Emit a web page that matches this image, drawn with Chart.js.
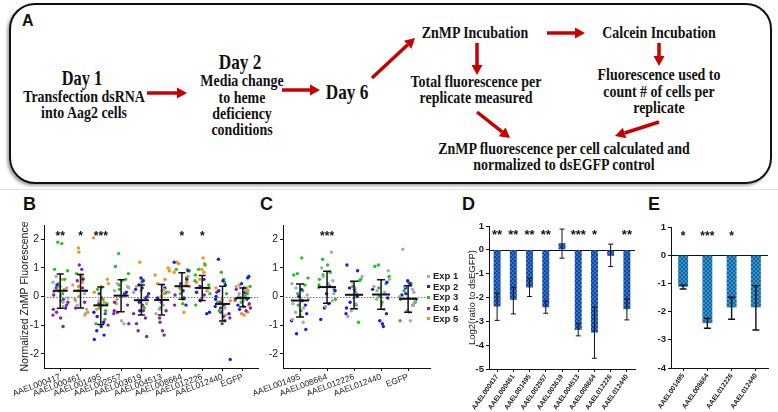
<!DOCTYPE html>
<html>
<head>
<meta charset="utf-8">
<script src="https://cdn.jsdelivr.net/npm/chart.js@4.4.0/dist/chart.umd.min.js"></script>
<style>
  html, body { margin: 0; padding: 0; background: #fff; }
  #page { position: relative; width: 778px; height: 412px; overflow: hidden; }
  #boxA { position: absolute; left: 9px; top: 3px; width: 759px; height: 177px;
          border: 2px solid #111; border-radius: 26px; box-shadow: -2px 2px 3px rgba(0,0,0,0.35); }
  .t { position: absolute; white-space: nowrap; font: bold 17px 'Liberation Serif', 'Times New Roman', serif;
       line-height: 16px; color: #111; transform: translateX(-50%) scaleX(0.82); }
  .day { font-size: 21px; line-height: 20px; }
  .lbl { position: absolute; font: bold 18px 'Liberation Sans', Arial, sans-serif; line-height: 18px; color: #111; }
  canvas { position: absolute; }
  .leg { position: absolute; font: bold 9.5px 'Liberation Sans', Arial, sans-serif; line-height: 10px; color: #222; }
  .sw { position: absolute; width: 3px; height: 3px; }
  #sep { position: absolute; left: 0; top: 189px; width: 778px; height: 1px; background: #e2e2e2; }
</style>
</head>
<body>
<div id="page">
  <div id="boxA"></div>
  <div class="lbl" style="left:22px;top:12px;font-size:16px;">A</div>

  <div class="t day" style="left:82px;top:68px;font-size:20px;">Day 1</div>
  <div class="t" style="left:84px;top:89px;">Transfection dsRNA</div>
  <div class="t" style="left:84px;top:105px;">into Aag2 cells</div>

  <div class="t day" style="left:240px;top:52px;">Day 2</div>
  <div class="t" style="left:242px;top:73px;">Media change</div>
  <div class="t" style="left:242px;top:90px;">to heme</div>
  <div class="t" style="left:242px;top:106px;">deficiency</div>
  <div class="t" style="left:242px;top:122px;">conditions</div>

  <div class="t day" style="left:347px;top:82px;">Day 6</div>

  <div class="t" style="left:475px;top:25px;">ZnMP Incubation</div>
  <div class="t" style="left:659px;top:25px;">Calcein Incubation</div>
  <div class="t" style="left:476px;top:74px;">Total fluorescence per</div>
  <div class="t" style="left:476px;top:90px;">replicate measured</div>
  <div class="t" style="left:659px;top:67px;">Fluorescence used to</div>
  <div class="t" style="left:659px;top:84px;">count # of cells per</div>
  <div class="t" style="left:659px;top:100px;">replicate</div>
  <div class="t" style="left:564px;top:141px;">ZnMP fluorescence per cell calculated and</div>
  <div class="t" style="left:564px;top:157px;">normalized to dsEGFP control</div>

  <svg id="arrows" width="778" height="190" style="position:absolute;left:0;top:0;"></svg>

  <div id="sep"></div>

  <div class="lbl" style="left:23px;top:195px;">B</div>
  <div class="lbl" style="left:260px;top:195px;">C</div>
  <div class="lbl" style="left:462px;top:195px;">D</div>
  <div class="lbl" style="left:648px;top:195px;">E</div>

  <canvas id="chartB" width="262" height="222" style="left:0;top:190px;"></canvas>
  <canvas id="chartC" width="182" height="222" style="left:250px;top:190px;"></canvas>
  <canvas id="chartD" width="207" height="222" style="left:430px;top:190px;"></canvas>
  <canvas id="chartE" width="143" height="222" style="left:635px;top:190px;"></canvas>

  <div id="legend"></div>
</div>

<script>
// ---- data ----
const bCats = ['AAEL000417', 'AAEL000461', 'AAEL001495', 'AAEL002557', 'AAEL003619',
               'AAEL004513', 'AAEL008664', 'AAEL012226', 'AAEL012440', 'EGFP'];
const bMean = [0.2, 0.2, -0.31, 0.03, -0.13, -0.12, 0.36, 0.3, -0.26, -0.05];
const bHigh = [0.79, 0.77, 0.33, 0.59, 0.4, 0.42, 0.83, 0.73, 0.36, 0.3];
const bLow = [-0.41, -0.4, -0.98, -0.53, -0.65, -0.65, -0.1, -0.14, -0.86, -0.36];
const bStars = ['**', '*', '***', '', '', '', '*', '*', '', ''];
const bYTicks = [-2, -1, 0, 1, 2];

// one sub-array per category, one array per experiment
const bExp1 = [
  [0.5, 0.3, -0.05, 0.15, -0.35, 0.7, 0.0, -0.2],
  [0.1, -0.15, -0.3, 0.2, 0.4, -0.45, -0.6, 0.0],
  [-0.15, 0.3],
  [0.35, 0.3, 0.2, 0.0, -0.1, -0.85, -0.95, 0.45],
  [0.35, -0.1, -0.25, 0.15],
  [0.4, 0.25, 0.0, -0.3, -0.45, -0.6, 0.15],
  [0.35],
  [0.3, 0.2],
  [-0.4, -0.1],
  [0.35, 0.2, 0.0, -0.15, -0.05, 0.1]
];
const bExp2 = [
  [0.4, -0.4],
  [0.6],
  [-1.5, -1.35, -1.2, -1.05, -0.9, -0.7, -0.55],
  [0.15],
  [0.65, 0.55, 0.4, 0.25, 0.1, -0.05, -0.2, -0.5, 0.3],
  [0.3, -0.05],
  [1.2, 0.9, 0.6, 0.45, 0.2, -0.05, -0.3],
  [0.6, 0.35, 0.15, -0.55, -0.6, -0.15],
  [1.3, 0.55, 0.4, 0.2, -0.1, -0.35, -0.6, -2.2, 0.0],
  [0.7, 0.65, 0.45, 0.3, 0.15, -0.1, -0.3, -0.45]
];
const bExp3 = [
  [1.85, 1.9, 0.95, 0.9, 0.6, 0.45, 0.2, -0.15, 0.1, 0.35],
  [0.8],
  [-0.25, -0.5, -0.4, -0.3, -0.1, -0.8, -0.95, 0.25],
  [1.5, 1.05, 0.8, 0.6, 0.4, 0.25, 0.55],
  [0.5, -0.4],
  [0.15, -0.4],
  [0.95, 0.9, 0.65, 0.3, 0.1, -0.25],
  [1.1, 0.95, 0.75, 0.55, 0.4, 0.1, -0.3],
  [0.85, 0.6, 0.5, 0.1, -0.2, -0.5],
  [0.35, 0.1, -0.05, -0.2, -0.35, 0.0]
];
const bExp4 = [
  [-1.05, -0.55, -0.45, -0.65, -0.3, -0.2, 0.05, -0.1, 0.3, -0.75],
  [1.1, 0.95, 0.3, -0.2, -0.4, 0.55],
  [-1.0, -0.6, -0.25, 0.1, -0.05],
  [-0.55, -0.5, -0.6, -0.3, -0.95, -0.2, 0.1],
  [-0.3, -0.5, -0.75, -0.95, -1.2, -1.4, -0.6, 0.0],
  [-0.5, -0.75, -0.9, -1.2, -1.35, -0.2],
  [0.05, -0.3],
  [0.05],
  [-0.4, -0.55, -0.7, -0.85, -0.95, -0.3, -0.2, 0.15, -0.75],
  [-0.1, -0.25, -0.4, 0.25, -0.5]
];
const bExp5 = [
  [0.6, 0.25],
  [1.7, 1.55, 0.7, 0.65, 0.75, 0.5, 0.2, -0.1, -0.55, -0.65, 0.35, 0.0],
  [2.05, 0.6, 0.45, 0.15, -0.2, -0.45, 0.35],
  [0.05, -0.25],
  [1.2, 0.6, 0.55, 0.2, -0.35],
  [1.0, 0.9, 0.75, 0.6, 0.45, 0.2, 0.1, -0.1],
  [1.2, 1.15, 0.95, 0.85, 0.7, 0.5, 0.25, -0.1, -0.55, 0.4],
  [1.35, 1.15, 0.95, 0.85, 0.6, 0.5, 0.3, 0.2, -0.1],
  [-0.15, 0.3, -0.65],
  [0.4, 0.2, -0.15, -0.3, -0.55, -0.6, -0.65, 0.05, 0.3]
];

const cCats = ['AAEL001495', 'AAEL008664', 'AAEL012226', 'AAEL012440', 'EGFP'];
const cMean = [-0.14, 0.33, 0.06, 0.07, -0.08];
const cHigh = [0.44, 0.88, 0.53, 0.59, 0.38];
const cLow = [-0.72, -0.24, -0.43, -0.45, -0.55];
const cStars = ['', '***', '', '', ''];
const cExp1 = [
  [0.45, 0.05, -0.1, -0.25, -0.4, -0.55, -0.65, -0.9, 0.3, -0.8],
  [1.55, 1.0, 0.7, 0.55, 0.3, 0.1, -0.15, -0.35, 0.45],
  [0.5, 0.3, 0.1, -0.05, -0.25, -0.5, -0.7, 0.7],
  [0.9, 0.6, 0.35, 0.15, -0.1, -0.3, -0.45, 0.2],
  [1.65, 0.35, 0.15, 0.0, -0.15, -0.3, -0.5, -0.55, -0.85, 0.25]
];
const cExp2 = [
  [-1.3, -1.15, -0.85, -0.6, -0.3, 0.0, 0.25, -0.15],
  [0.35, 0.1, -0.25, -0.4, -0.8, 0.2],
  [1.1, 0.9, 0.3, 0.25, 0.0, -0.2, -0.4, -0.6],
  [0.5, 0.25, -0.05, -0.6, -0.85, -0.95, -1.05],
  [0.55, 0.45, 0.3, 0.05, -0.1, -0.3, 0.1]
];
const cExp3 = [
  [1.35, 0.8, 0.75, 0.65, 0.4, 0.1, -0.3, -0.5, 0.2],
  [1.3, 1.1, 0.85, 0.75, 0.6, 0.4, 0.25, -0.1],
  [0.6, 0.55, 0.35, 0.15, -0.3, -0.9],
  [1.1, 1.05, 0.7, 0.45, 0.3, 0.0, -0.2],
  [0.5, 0.45, 0.2, -0.1, -0.85, -0.2]
];

const dCats = ['AAEL000417', 'AAEL000461', 'AAEL001495', 'AAEL002557', 'AAEL003619',
               'AAEL004513', 'AAEL008664', 'AAEL012226', 'AAEL012440'];
const dVals = [-2.38, -2.1, -1.58, -2.41, 0.28, -3.36, -3.47, -0.25, -2.49];
const dLow = [-2.96, -2.69, -1.96, -2.66, -0.35, -3.61, -4.55, -0.7, -2.94];
const dHigh = [-1.82, -1.57, -1.19, -2.15, 0.87, -3.1, -2.41, 0.24, -2.07];
const dStars = ['**', '**', '**', '**', '', '***', '*', '', '**'];
const dYTicks = [1, 0, -1, -2, -3, -4, -5];

const eCats = ['AAEL001495', 'AAEL008664', 'AAEL012226', 'AAEL012440'];
const eVals = [-1.12, -2.41, -1.85, -1.85];
const eLow = [-1.2, -2.59, -2.27, -2.65];
const eHigh = [-1.06, -2.24, -1.49, -1.08];
const eStars = ['*', '***', '*', ''];
const eYTicks = [1, 0, -1, -2, -3, -4];

const expNames = ['Exp 1', 'Exp 2', 'Exp 3', 'Exp 4', 'Exp 5'];
const expColors = ['#a9a9a9', '#1c1ce6', '#22c322', '#7a2aa6', '#ff8a1e'];

// horizontal scatter offsets inside a column (position only)
const JIT = [-0.9, 0.5, -0.2, 0.8, -0.6, 0.1, 0.95, -0.4, 0.3, -0.8, 0.65, -0.05, 0.4, -0.95, 0.2,
             -0.5, 0.75, -0.3, 0.05, 0.6, -0.7, 0.35, -0.15, 0.9, -0.45, 0.15, 0.55, -0.85, 0.25, -0.25];

Chart.defaults.font.family = "'Liberation Sans', Arial, sans-serif";
Chart.defaults.color = '#1a1a1a';

// ---- panel A arrows ----
(function drawArrows() {
  const svg = document.getElementById('arrows');
  const list = [
    [147, 93, 187, 93], [282, 90, 320, 90], [372, 78, 415, 38], [547, 33, 585, 33],
    [477, 43, 477, 75], [659, 43, 659, 66], [477, 112, 510, 138], [659, 122, 615, 136]
  ];
  let html = '';
  list.forEach(function(a) {
    const dx = a[2] - a[0], dy = a[3] - a[1];
    const len = Math.sqrt(dx * dx + dy * dy);
    const ux = dx / len, uy = dy / len;
    const hl = 10, hw = 5.5;
    const bx = a[2] - ux * hl, by = a[3] - uy * hl;
    html += '<line x1="' + a[0] + '" y1="' + a[1] + '" x2="' + bx + '" y2="' + by +
            '" stroke="#c80000" stroke-width="3.5"/>';
    html += '<polygon fill="#c80000" points="' + a[2] + ',' + a[3] + ' ' +
            (bx - uy * hw) + ',' + (by + ux * hw) + ' ' + (bx + uy * hw) + ',' + (by - ux * hw) + '"/>';
  });
  svg.innerHTML = html;
})();

// ---- legend (panel C) ----
(function drawLegend() {
  const el = document.getElementById('legend');
  let html = '';
  expNames.forEach(function(n, i) {
    const y = 276 + i * 10.7;
    html += '<div class="sw" style="left:427px;top:' + (y - 1.5) + 'px;background:' + expColors[i] + '"></div>';
    html += '<div class="leg" style="left:433px;top:' + (y - 5) + 'px;">' + n + '</div>';
  });
  el.innerHTML = html;
})();

// ---- helpers ----
function swarm(expArr, spread, expIdx) {
  const pts = [];
  expArr.forEach(function(vals, c) {
    vals.forEach(function(v, k) {
      pts.push({ x: c + spread * JIT[(expIdx * 7 + k * 3 + c) % JIT.length], y: v });
    });
  });
  return pts;
}

function meanSdPlugin(means, lows, highs, halfMean, halfCap) {
  return {
    id: 'meanSd',
    afterDatasetsDraw(chart) {
      const ctx = chart.ctx, xs = chart.scales.x, ys = chart.scales.y;
      ctx.save();
      ctx.strokeStyle = '#111';
      means.forEach(function(m, i) {
        const x = xs.getPixelForValue(i);
        const yl = ys.getPixelForValue(lows[i]), yh = ys.getPixelForValue(highs[i]);
        const ym = ys.getPixelForValue(m);
        ctx.lineWidth = 1.5;
        ctx.beginPath();
        ctx.moveTo(x, yl); ctx.lineTo(x, yh);
        ctx.moveTo(x - halfCap, yl); ctx.lineTo(x + halfCap, yl);
        ctx.moveTo(x - halfCap, yh); ctx.lineTo(x + halfCap, yh);
        ctx.stroke();
        ctx.lineWidth = 2;
        ctx.beginPath();
        ctx.moveTo(x - halfMean, ym); ctx.lineTo(x + halfMean, ym);
        ctx.stroke();
      });
      ctx.restore();
    }
  };
}

function barErrPlugin(lows, highs, halfCap, lw) {
  return {
    id: 'barErr',
    afterDatasetsDraw(chart) {
      const ctx = chart.ctx, xs = chart.scales.x, ys = chart.scales.y;
      ctx.save();
      ctx.strokeStyle = '#111';
      ctx.lineWidth = lw;
      lows.forEach(function(lo, i) {
        const x = xs.getPixelForValue(i);
        const yl = ys.getPixelForValue(lo), yh = ys.getPixelForValue(highs[i]);
        ctx.beginPath();
        ctx.moveTo(x, yl); ctx.lineTo(x, yh);
        ctx.moveTo(x - halfCap, yl); ctx.lineTo(x + halfCap, yl);
        ctx.moveTo(x - halfCap, yh); ctx.lineTo(x + halfCap, yh);
        ctx.stroke();
      });
      ctx.restore();
    }
  };
}

function starsPlugin(stars, yVal, size) {
  return {
    id: 'stars',
    afterDraw(chart) {
      const ctx = chart.ctx, xs = chart.scales.x, ys = chart.scales.y;
      ctx.save();
      ctx.fillStyle = '#111';
      ctx.font = 'bold ' + size + "px 'Liberation Sans', Arial, sans-serif";
      ctx.textAlign = 'center';
      ctx.textBaseline = 'alphabetic';
      const y = ys.getPixelForValue(yVal) + size * 0.57;
      stars.forEach(function(s, i) {
        if (s) ctx.fillText(s, xs.getPixelForValue(i), y);
      });
      ctx.restore();
    }
  };
}

function zeroLinePlugin(dotted) {
  return {
    id: 'zeroLine',
    beforeDatasetsDraw(chart) {
      const ctx = chart.ctx, a = chart.chartArea, y = chart.scales.y.getPixelForValue(0);
      ctx.save();
      if (dotted) {
        ctx.strokeStyle = '#777';
        ctx.setLineDash([1.5, 1.5]);
        ctx.lineWidth = 1;
      } else {
        ctx.strokeStyle = '#111';
        ctx.lineWidth = 1.2;
      }
      ctx.beginPath();
      ctx.moveTo(a.left, Math.round(y) + 0.5);
      ctx.lineTo(a.right, Math.round(y) + 0.5);
      ctx.stroke();
      ctx.restore();
    }
  };
}

function checker(ctx, c1, c2) {
  const p = document.createElement('canvas');
  p.width = 4; p.height = 4;
  const g = p.getContext('2d');
  g.fillStyle = c1; g.fillRect(0, 0, 4, 4);
  g.fillStyle = c2; g.fillRect(0, 0, 2, 2); g.fillRect(2, 2, 2, 2);
  return ctx.createPattern(p, 'repeat');
}

const axisGrid = { drawOnChartArea: false, drawTicks: true, tickLength: 3, color: '#111', lineWidth: 1 };
const axisBorder = { display: true, color: '#111', width: 1 };

function dotChart(id, cats, exps, spread, means, lows, highs, stars, xMin, xMax, yWidth, title, titlePad, halfMean, halfCap) {
  const datasets = exps.map(function(e, i) {
    return {
      label: expNames[i],
      data: swarm(e, spread, i),
      backgroundColor: expColors[i],
      borderWidth: 0,
      pointRadius: 1.7,
      pointHoverRadius: 1.7
    };
  });
  return new Chart(document.getElementById(id), {
    type: 'scatter',
    data: { datasets: datasets },
    options: {
      responsive: false,
      animation: false,
      layout: { padding: { left: 0, top: 35, right: id === 'chartB' ? 4 : 2, bottom: 0 } },
      plugins: { legend: { display: false }, tooltip: { enabled: false } },
      scales: {
        x: {
          type: 'linear', min: xMin, max: xMax,
          afterBuildTicks: function(s) { s.ticks = cats.map(function(c, i) { return { value: i }; }); },
          afterFit: function(s) { s.height = 44; s.paddingLeft = 0; s.paddingRight = 0; },
          ticks: {
            autoSkip: false, minRotation: 20, maxRotation: 20, padding: 1,
            font: { size: 8.5 },
            callback: function(v) { return cats[v]; }
          },
          grid: axisGrid, border: axisBorder
        },
        y: {
          min: -2.5, max: 2.5,
          afterBuildTicks: function(s) { s.ticks = bYTicks.map(function(v) { return { value: v }; }); },
          afterFit: function(s) { s.width = yWidth; s.paddingTop = 0; s.paddingBottom = 0; },
          ticks: { padding: 2, font: { size: 10.5 } },
          title: { display: !!title, text: title, font: { size: 10.5 }, padding: { top: titlePad, bottom: 0 } },
          grid: axisGrid, border: axisBorder
        }
      }
    },
    plugins: [zeroLinePlugin(true), meanSdPlugin(means, lows, highs, halfMean, halfCap), starsPlugin(stars, 2.23, 12)]
  });
}

function barChart(id, cats, vals, lows, highs, stars, yTicks, yMin, pad, yWidth, title, titlePad, barPct, pattern, halfCap, lw, starY, starSize) {
  const canvas = document.getElementById(id);
  return new Chart(canvas, {
    type: 'bar',
    data: {
      labels: cats,
      datasets: [{ data: vals, backgroundColor: pattern, borderWidth: 0,
                   barPercentage: barPct, categoryPercentage: 1 }]
    },
    options: {
      responsive: false,
      animation: false,
      layout: { padding: pad },
      plugins: { legend: { display: false }, tooltip: { enabled: false } },
      scales: {
        x: {
          afterFit: function(s) { s.height = 222 - pad.top - (yMin === -5 ? 143 : 141); s.paddingLeft = 0; s.paddingRight = 0; },
          ticks: { autoSkip: false, minRotation: 55, maxRotation: 55, padding: 1,
                   font: { size: 6.8, weight: 'bold' } },
          grid: Object.assign({ offset: false }, axisGrid), border: axisBorder
        },
        y: {
          min: yMin, max: 1,
          afterBuildTicks: function(s) { s.ticks = yTicks.map(function(v) { return { value: v }; }); },
          afterFit: function(s) { s.width = yWidth; s.paddingTop = 0; s.paddingBottom = 0; },
          ticks: { padding: 2, font: { size: 9.5, weight: 'bold' } },
          title: { display: !!title, text: title, font: { size: 9.5 }, padding: { top: titlePad, bottom: 0 } },
          grid: axisGrid, border: axisBorder
        }
      }
    },
    plugins: [zeroLinePlugin(false), barErrPlugin(lows, highs, halfCap, lw), starsPlugin(stars, starY, starSize)]
  });
}

dotChart('chartB', bCats, [bExp1, bExp2, bExp3, bExp4, bExp5], 0.4, bMean, bLow, bHigh, bStars,
         -0.8, 9.75, 44, 'Normalized ZnMP Fluorescence', 18.7, 7.5, 3.5);
dotChart('chartC', cCats, [cExp1, cExp2, cExp3], 0.33, cMean, cLow, cHigh, cStars,
         -0.63, 4.81, 33, '', 0, 9, 4);

const ctxD = document.getElementById('chartD').getContext('2d');
barChart('chartD', dCats, dVals, dLow, dHigh, dStars, dYTicks, -5,
         { left: 0, top: 36, right: 2, bottom: 0 }, 59, 'Log2(ratio to dsEGFP)', 36.3, 0.43,
         checker(ctxD, '#17439e', '#2f74c8'), 2.5, 1, 0.75, 13);
const ctxE = document.getElementById('chartE').getContext('2d');
barChart('chartE', eCats, eVals, eLow, eHigh, eStars, eYTicks, -4,
         { left: 0, top: 37, right: 10, bottom: 0 }, 36, '', 0, 0.41,
         checker(ctxE, '#1b5cb6', '#2f9cb4'), 3.5, 1.4, 0.79, 12);
</script>
</body>
</html>
